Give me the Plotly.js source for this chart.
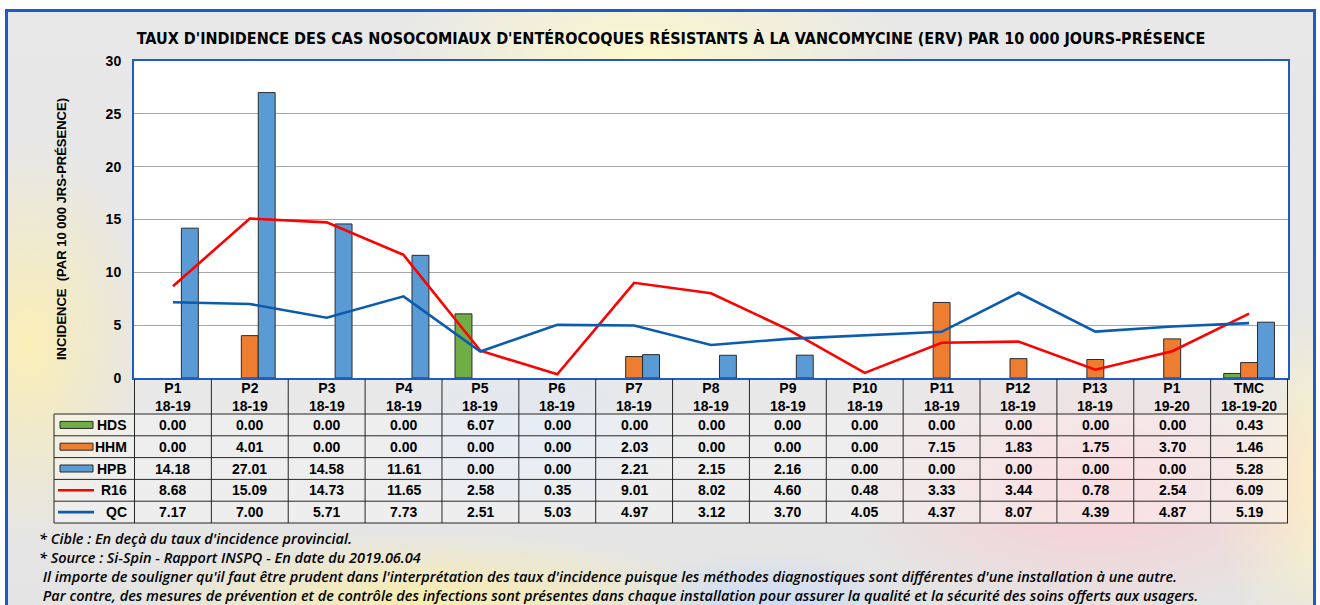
<!DOCTYPE html>
<html>
<head>
<meta charset="utf-8">
<script src="https://cdn.plot.ly/plotly-3.0.1.min.js"></script>
<style>
  html, body { margin:0; padding:0; width:1320px; height:605px; overflow:hidden; background:#ffffff; }
  #frame {
    position:absolute; left:5px; top:9px; width:1305px; height:600px;
    border:3px solid #1f5bc8; border-bottom:none;
    background:
      radial-gradient(ellipse 260px 120px at 640px 50px, rgba(255,250,200,0.9), rgba(255,250,200,0) 100%),
      radial-gradient(ellipse 120px 200px at 20px 330px, rgba(255,240,170,0.8), rgba(255,240,170,0) 100%),
      radial-gradient(ellipse 260px 140px at 1090px 470px, rgba(255,200,205,0.85), rgba(255,200,205,0) 100%),
      radial-gradient(ellipse 300px 70px at 420px 590px, rgba(255,240,160,0.8), rgba(255,240,160,0) 100%),
      radial-gradient(ellipse 160px 60px at 760px 600px, rgba(190,215,255,0.7), rgba(190,215,255,0) 100%),
      radial-gradient(ellipse 120px 180px at 1320px 470px, rgba(255,245,190,0.9), rgba(255,245,190,0) 100%),
      radial-gradient(ellipse 160px 90px at 520px 420px, rgba(205,225,255,0.6), rgba(205,225,255,0) 100%),
      linear-gradient(#e8e8e8, #e4e4e4);
  }
  #chart { position:absolute; left:0; top:0; width:1320px; height:605px; }
</style>
</head>
<body>
<div id="frame"></div>
<div id="chart"></div>
<script>
// ---------------- data ----------------
const periods = ['P1', 'P2', 'P3', 'P4', 'P5', 'P6', 'P7', 'P8', 'P9', 'P10', 'P11', 'P12', 'P13', 'P1', 'TMC'];
const years   = ['18-19','18-19','18-19','18-19','18-19','18-19','18-19','18-19','18-19','18-19','18-19','18-19','18-19','19-20','18-19-20'];
const seriesNames = ['HDS', 'HHM', 'HPB', 'R16', 'QC'];
const HDS = [0.00, 0.00, 0.00, 0.00, 6.07, 0.00, 0.00, 0.00, 0.00, 0.00, 0.00, 0.00, 0.00, 0.00, 0.43];
const HHM = [0.00, 4.01, 0.00, 0.00, 0.00, 0.00, 2.03, 0.00, 0.00, 0.00, 7.15, 1.83, 1.75, 3.70, 1.46];
const HPB = [14.18, 27.01, 14.58, 11.61, 0.00, 0.00, 2.21, 2.15, 2.16, 0.00, 0.00, 0.00, 0.00, 0.00, 5.28];
const R16 = [8.68, 15.09, 14.73, 11.65, 2.58, 0.35, 9.01, 8.02, 4.60, 0.48, 3.33, 3.44, 0.78, 2.54, 6.09];
const QC  = [7.17, 7.00, 5.71, 7.73, 2.51, 5.03, 4.97, 3.12, 3.70, 4.05, 4.37, 8.07, 4.39, 4.87, 5.19];
const titleText = "TAUX D'INDIDENCE DES CAS NOSOCOMIAUX D'ENTÉROCOQUES RÉSISTANTS À LA VANCOMYCINE (ERV) PAR 10 000 JOURS-PRÉSENCE";
const yTitle = "INCIDENCE  (PAR 10 000 JRS-PRÉSENCE)";
const notes = [
  "* Cible : En deçà du taux d'incidence provincial.",
  "* Source : Si-Spin - Rapport INSPQ - En date du 2019.06.04",
  "Il importe de souligner qu'il faut être prudent dans l'interprétation des taux d'incidence puisque les méthodes diagnostiques sont différentes d'une installation à une autre.",
  "Par contre, des mesures de prévention et de contrôle des infections sont présentes dans chaque installation pour assurer la qualité et la sécurité des soins offerts aux usagers."
];

// ---------------- styling ----------------
const colors = { HDS:'#70ad47', HHM:'#ed7d31', HPB:'#5b9bd5', R16:'#ff0000', QC:'#0b5bb0' };
const W = 1320, H = 605;
const M = { l:54, r:32, t:61, b:82 };
const PW = W - M.l - M.r, PH = H - M.t - M.b;
const px2x = p => (p - M.l) / PW;
const px2y = p => (H - M.b - p) / PH;
const FONT = 'Liberation Sans, Arial, sans-serif';

const cats = periods.map((p, i) => p + '<br>' + years[i]);
const nz = arr => arr.map(v => v === 0 ? null : v);

const bar = (name, arr) => ({
  type:'bar', name, x:cats, y:nz(arr), marker:{ color:colors[name], line:{ color:'#2b2b2b', width:1 } }
});
const line = (name, arr) => ({
  type:'scatter', mode:'lines', name, x:cats, y:arr, line:{ color:colors[name], width:2.6 }
});
const data = [bar('HDS', HDS), bar('HHM', HHM), bar('HPB', HPB), line('R16', R16), line('QC', QC)];

// ---------------- data table (below the axis) ----------------
const allSeries = [HDS, HHM, HPB, R16, QC];
const headTop = 379, headBot = 414, tblLeft = 54, tblBot = 523;
const rowH = (tblBot - headBot) / seriesNames.length;
const rowEdges = seriesNames.map((_, i) => headBot + i * rowH).concat([tblBot]);
const rowCenters = seriesNames.map((_, i) => headBot + (i + 0.5) * rowH);

const shapes = [];
const annotations = [];
const nC = cats.length;
const lineStyle = { color:'#262626', width:1 };

// translucent fills
shapes.push({ type:'rect', xref:'x', yref:'paper', x0:-0.5, x1:nC - 0.5, y0:px2y(headBot), y1:px2y(headTop),
  fillcolor:'rgba(236,236,236,0.5)', line:{ width:0 }, layer:'below' });
shapes.push({ type:'rect', xref:'paper', yref:'paper', x0:px2x(tblLeft), x1:1, y0:px2y(tblBot), y1:px2y(headBot),
  fillcolor:'rgba(250,250,250,0.42)', line:{ width:0 }, layer:'below' });

// horizontal rules
rowEdges.forEach(y => shapes.push({ type:'line', xref:'paper', yref:'paper', x0:px2x(tblLeft), x1:1,
  y0:px2y(y), y1:px2y(y), line:lineStyle }));
// vertical rules between categories
for (let i = 0; i <= nC; i++) {
  shapes.push({ type:'line', xref:'x', yref:'paper', x0:i - 0.5, x1:i - 0.5, y0:px2y(tblBot), y1:px2y(headTop), line:lineStyle });
}
shapes.push({ type:'line', xref:'paper', yref:'paper', x0:px2x(tblLeft), x1:px2x(tblLeft), y0:px2y(tblBot), y1:px2y(headBot), line:lineStyle });

// header labels
cats.forEach(c => annotations.push({ text:'<b>' + c + '</b>', xref:'x', yref:'paper', x:c, y:px2y((headTop + headBot) / 2),
  xanchor:'center', yanchor:'middle', showarrow:false, font:{ family:FONT, size:14, color:'#000' } }));

// values
allSeries.forEach((s, r) => s.forEach((v, i) => annotations.push({
  text:'<b>' + v.toFixed(2) + '</b>', xref:'x', yref:'paper', x:cats[i], y:px2y(rowCenters[r]),
  xanchor:'center', yanchor:'middle', showarrow:false, font:{ family:FONT, size:14, color:'#000' } })));

// legend column: swatches + names
seriesNames.forEach((n, i) => {
  const yc = rowCenters[i];
  if (i < 3) {
    shapes.push({ type:'rect', xref:'paper', yref:'paper', x0:px2x(60), x1:px2x(93), y0:px2y(yc + 3.5), y1:px2y(yc - 3.5),
      fillcolor:colors[n], line:{ color:'#2b2b2b', width:1 } });
  } else {
    shapes.push({ type:'line', xref:'paper', yref:'paper', x0:px2x(58), x1:px2x(94), y0:px2y(yc), y1:px2y(yc),
      line:{ color:colors[n], width:2.6 } });
  }
  annotations.push({ text:'<b>' + n + '</b>', xref:'paper', yref:'paper', x:px2x(129), y:px2y(yc),
    xanchor:'right', yanchor:'middle', showarrow:false, font:{ family:FONT, size:14, color:'#000' } });
});

// footnotes (one block, lines 3-4 slightly indented)
const noteText = notes.map((t, i) => (i < 2 ? '' : '\u00a0') + t).join('<br>');
annotations.push({
  text:noteText, xref:'paper', yref:'paper', x:px2x(38), y:px2y(528),
  xanchor:'left', yanchor:'top', align:'left', showarrow:false, borderpad:0,
  font:{ family:'Open Sans, sans-serif', size:14.5, color:'#000', style:'italic', weight:600 }
});

// y-axis title
annotations.push({
  text:'<b>' + yTitle + '</b>', textangle:-90, xref:'paper', yref:'paper',
  x:px2x(61), y:px2y(229), xanchor:'center', yanchor:'middle', showarrow:false,
  font:{ family:FONT, size:13, color:'#000' }
});

const layout = {
  width:W, height:H, margin:M,
  paper_bgcolor:'rgba(0,0,0,0)', plot_bgcolor:'#ffffff',
  showlegend:false, barmode:'group', bargap:0.34, bargroupgap:0,
  title:{ text:'<b>' + titleText + '</b>', xref:'paper', x:0.5, xanchor:'center', yref:'container', y:1 - 38/H, yanchor:'middle',
    font:{ family:'DejaVu Sans Condensed, Liberation Sans Narrow, sans-serif', size:16, color:'#000' } },
  xaxis:{ domain:[px2x(134), 1], type:'category', showticklabels:false, ticks:'', showgrid:false,
    showline:true, linecolor:'#1f5bc0', linewidth:2, mirror:true, zeroline:false, fixedrange:true },
  yaxis:{ domain:[px2y(378), 1], range:[0, 30], dtick:5, tick0:0, showgrid:true, gridcolor:'#a6a6a6', gridwidth:1,
    showline:true, linecolor:'#1f5bc0', linewidth:2, mirror:true, zeroline:false, ticks:'', ticklabelstandoff:8,
    tickfont:{ family:FONT, size:14, color:'#000', weight:'bold' }, fixedrange:true },
  shapes, annotations
};

Plotly.newPlot('chart', data, layout, { displayModeBar:false, staticPlot:true });
</script>
</body>
</html>
